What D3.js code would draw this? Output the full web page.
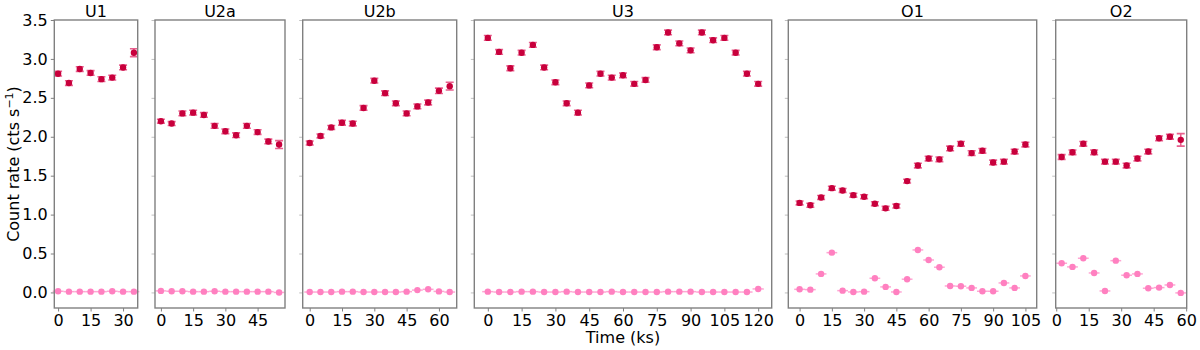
<!DOCTYPE html>
<html>
<head>
<meta charset="utf-8">
<script src="https://cdn.jsdelivr.net/npm/d3@7"></script>
<style>
  body { margin: 0; background: #fff; }
  text { font-family: "DejaVu Sans", sans-serif; fill: #000; }
</style>
</head>
<body>
<div id="chart"></div>
<script>
// panel names
var panelNames = ["U1", "U2a", "U2b", "U3", "O1", "O2"];

// bin times (ks)
var u1Time = [0, 5, 10, 15, 20, 25, 30, 35];
var u2aTime = [0, 5, 10, 15, 20, 25, 30, 35, 40, 45, 50, 55];
var u2bTime = [0, 5, 10, 15, 20, 25, 30, 35, 40, 45, 50, 55, 60, 65];
var u3Time = [0, 5, 10, 15, 20, 25, 30, 35, 40, 45, 50, 55, 60, 65, 70, 75, 80, 85, 90, 95, 100, 105, 110, 115, 120];
var o1Time = [0, 5, 10, 15, 20, 25, 30, 35, 40, 45, 50, 55, 60, 65, 70, 75, 80, 85, 90, 95, 100, 105];
var o2Time = [2.5, 7.5, 12.5, 17.5, 22.5, 27.5, 32.5, 37.5, 42.5, 47.5, 52.5, 57.5];

// source count rates (cts/s)
var u1Rate = [2.81, 2.69, 2.87, 2.82, 2.74, 2.76, 2.89, 3.08];
var u2aRate = [2.20, 2.17, 2.30, 2.31, 2.28, 2.14, 2.07, 2.02, 2.14, 2.06, 1.94, 1.90];
var u2bRate = [1.92, 2.01, 2.12, 2.18, 2.17, 2.37, 2.72, 2.56, 2.43, 2.30, 2.39, 2.44, 2.59, 2.65];
var u3Rate = [3.27, 3.09, 2.88, 3.08, 3.18, 2.89, 2.70, 2.43, 2.31, 2.66, 2.81, 2.76, 2.79, 2.68, 2.73,
              3.15, 3.34, 3.20, 3.11, 3.34, 3.24, 3.27, 3.08, 2.81, 2.68];
var o1Rate = [1.15, 1.12, 1.22, 1.34, 1.31, 1.25, 1.23, 1.14, 1.08, 1.11, 1.43, 1.63, 1.72, 1.71,
              1.85, 1.91, 1.79, 1.82, 1.67, 1.68, 1.81, 1.90];
var o2Rate = [1.74, 1.80, 1.91, 1.80, 1.68, 1.68, 1.63, 1.72, 1.81, 1.98, 2.00, 1.96];

// source rate errors
var u1Err = [0.03, 0.03, 0.03, 0.03, 0.03, 0.03, 0.03, 0.05];
var u2aErr = [0.025, 0.025, 0.03, 0.03, 0.03, 0.03, 0.03, 0.03, 0.03, 0.03, 0.03, 0.05];
var u2bErr = [0.025, 0.025, 0.025, 0.03, 0.03, 0.03, 0.03, 0.03, 0.03, 0.03, 0.03, 0.03, 0.035, 0.05];
var u3Err = [0.03, 0.03, 0.03, 0.03, 0.03, 0.03, 0.03, 0.03, 0.03, 0.03, 0.03, 0.03, 0.03, 0.03, 0.03,
             0.03, 0.03, 0.03, 0.03, 0.03, 0.03, 0.03, 0.03, 0.03, 0.03];
var o1Err = [0.025, 0.025, 0.025, 0.025, 0.025, 0.025, 0.025, 0.025, 0.025, 0.025, 0.025, 0.03, 0.03, 0.03,
             0.03, 0.03, 0.03, 0.03, 0.03, 0.03, 0.03, 0.03];
var o2Err = [0.03, 0.03, 0.03, 0.03, 0.03, 0.03, 0.03, 0.03, 0.03, 0.03, 0.03, 0.08];

// background count rates (cts/s)
var u1Bkg = [0.015, 0.01, 0.01, 0.01, 0.01, 0.015, 0.01, 0.01];
var u2aBkg = [0.02, 0.015, 0.015, 0.01, 0.01, 0.015, 0.01, 0.01, 0.01, 0.01, 0.01, 0.0];
var u2bBkg = [0.005, 0.005, 0.005, 0.01, 0.01, 0.005, 0.005, 0.005, 0.005, 0.01, 0.03, 0.04, 0.013, 0.005];
var u3Bkg = [0.01, 0.005, 0.005, 0.01, 0.01, 0.005, 0.005, 0.01, 0.005, 0.005, 0.005, 0.01, 0.005, 0.005, 0.005,
             0.005, 0.01, 0.01, 0.01, 0.005, 0.005, 0.005, 0.005, 0.005, 0.045];
var o1Bkg = [0.04, 0.036, 0.238, 0.511, 0.023, 0.006, 0.01, 0.182, 0.071, 0.006, 0.17, 0.546, 0.417, 0.324,
             0.083, 0.08, 0.058, 0.015, 0.015, 0.122, 0.058, 0.212];
var o2Bkg = [0.375, 0.328, 0.439, 0.25, 0.019, 0.408, 0.221, 0.238, 0.054, 0.062, 0.096, -0.006];

// x tick labels per panel
var u1Ticks = [0, 15, 30];
var u2aTicks = [0, 15, 30, 45];
var u2bTicks = [0, 15, 30, 45, 60];
var u3Ticks = [0, 15, 30, 45, 60, 75, 90, 105, 120];
var o1Ticks = [0, 15, 30, 45, 60, 75, 90, 105];
var o2Ticks = [0, 15, 30, 45, 60];

var yTicks = [0.0, 0.5, 1.0, 1.5, 2.0, 2.5, 3.0, 3.5];

var panels = [
  { name: panelNames[0], t: u1Time, r: u1Rate, e: u1Err, b: u1Bkg, ticks: u1Ticks, x0: 54.3, x1: 137.7, dom: [-1.75, 36.75] },
  { name: panelNames[1], t: u2aTime, r: u2aRate, e: u2aErr, b: u2aBkg, ticks: u2aTicks, x0: 155, x1: 285, dom: [-2.75, 57.75] },
  { name: panelNames[2], t: u2bTime, r: u2bRate, e: u2bErr, b: u2bBkg, ticks: u2bTicks, x0: 302.7, x1: 456.7, dom: [-3.25, 68.25] },
  { name: panelNames[3], t: u3Time, r: u3Rate, e: u3Err, b: u3Bkg, ticks: u3Ticks, x0: 474.3, x1: 771.7, dom: [-6, 126] },
  { name: panelNames[4], t: o1Time, r: o1Rate, e: o1Err, b: o1Bkg, ticks: o1Ticks, x0: 788.3, x1: 1036.7, dom: [-5.25, 110.25] },
  { name: panelNames[5], t: o2Time, r: o2Rate, e: o2Err, b: o2Bkg, ticks: o2Ticks, x0: 1055.7, x1: 1186.7, dom: [-0.25, 60.25] }
];

var width = 1200;
var height = 350;
var plotTop = 20, plotBottom = 308;
var binHalf = 2.5;

var srcColor = "#c8003c";
var errColor = "#e8608e";
var bkgColor = "#ff80c0";
var spineColor = "#808080";

var svg = d3.select("#chart")
  .append("svg")
  .attr("width", width)
  .attr("height", height);

var y = d3.scaleLinear().domain([-0.2, 3.5]).range([plotBottom, plotTop]);

panels.forEach(function(p, i) {
  var w = p.x1 - p.x0;
  var x = d3.scaleLinear().domain(p.dom).range([0, w]);
  var g = svg.append("g").attr("transform", "translate(" + p.x0 + ",0)");

  // x axis
  var xa = g.append("g")
    .attr("transform", "translate(0," + plotBottom + ")")
    .call(d3.axisBottom(x).tickValues(p.ticks).tickSize(3.5).tickPadding(3).tickFormat(d3.format("d")));
  xa.select(".domain").remove();
  xa.selectAll(".tick line").attr("stroke", spineColor);
  xa.selectAll(".tick text").style("font-size", "16px");

  // y axis
  var ya = g.append("g")
    .call(d3.axisLeft(y).tickValues(yTicks).tickSize(3.5).tickPadding(3)
      .tickFormat(i === 0 ? d3.format(".1f") : function() { return ""; }));
  ya.select(".domain").remove();
  ya.selectAll(".tick line").attr("stroke", i === 0 ? spineColor : "#c0c0c0");
  ya.selectAll(".tick text").style("font-size", "16px");

  // background: horizontal bin bars + dot
  var bk = g.append("g");
  bk.selectAll("line")
    .data(p.t)
    .enter()
    .append("line")
    .attr("x1", function(d) { return x(d - binHalf); })
    .attr("x2", function(d) { return x(d + binHalf); })
    .attr("y1", function(d, j) { return y(p.b[j]); })
    .attr("y2", function(d, j) { return y(p.b[j]); })
    .attr("stroke", bkgColor)
    .attr("stroke-width", 1.5)
    .attr("stroke-opacity", 0.7);
  bk.selectAll("circle")
    .data(p.t)
    .enter()
    .append("circle")
    .attr("cx", function(d) { return x(d); })
    .attr("cy", function(d, j) { return y(p.b[j]); })
    .attr("r", 3.2)
    .attr("fill", bkgColor);

  // source: vertical error bars with caps
  var src = g.append("g");
  src.selectAll(".ebar")
    .data(p.t)
    .enter()
    .append("path")
    .attr("class", "ebar")
    .attr("d", function(d, j) {
      var cx = x(d), lo = y(p.r[j] - p.e[j]), hi = y(p.r[j] + p.e[j]);
      return "M" + cx + "," + lo + "V" + hi +
        "M" + (cx - 4) + "," + hi + "H" + (cx + 4) +
        "M" + (cx - 4) + "," + lo + "H" + (cx + 4);
    })
    .attr("fill", "none")
    .attr("stroke", errColor)
    .attr("stroke-width", 1.6);
  src.selectAll("circle")
    .data(p.t)
    .enter()
    .append("circle")
    .attr("cx", function(d) { return x(d); })
    .attr("cy", function(d, j) { return y(p.r[j]); })
    .attr("r", 3.2)
    .attr("fill", srcColor);

  // spines
  g.append("rect")
    .attr("x", 0)
    .attr("y", plotTop)
    .attr("width", w)
    .attr("height", plotBottom - plotTop)
    .attr("fill", "none")
    .attr("stroke", spineColor)
    .attr("stroke-width", 1.4);

  // title
  g.append("text")
    .attr("x", w / 2)
    .attr("y", 17)
    .attr("text-anchor", "middle")
    .style("font-size", "16px")
    .text(p.name);

  if (i === 3) {
    g.append("text")
      .attr("x", w / 2)
      .attr("y", 343)
      .attr("text-anchor", "middle")
      .style("font-size", "16px")
      .text("Time (ks)");
  }
});

// y label
var yl = svg.append("text")
  .attr("transform", "translate(19," + ((plotTop + plotBottom) / 2) + ") rotate(-90)")
  .attr("text-anchor", "middle")
  .style("font-size", "16px");
yl.append("tspan").text("Count rate (cts s");
yl.append("tspan").attr("dy", -6).style("font-size", "11px").text("\u22121");
yl.append("tspan").attr("dy", 6).text(")");
</script>
</body>
</html>
